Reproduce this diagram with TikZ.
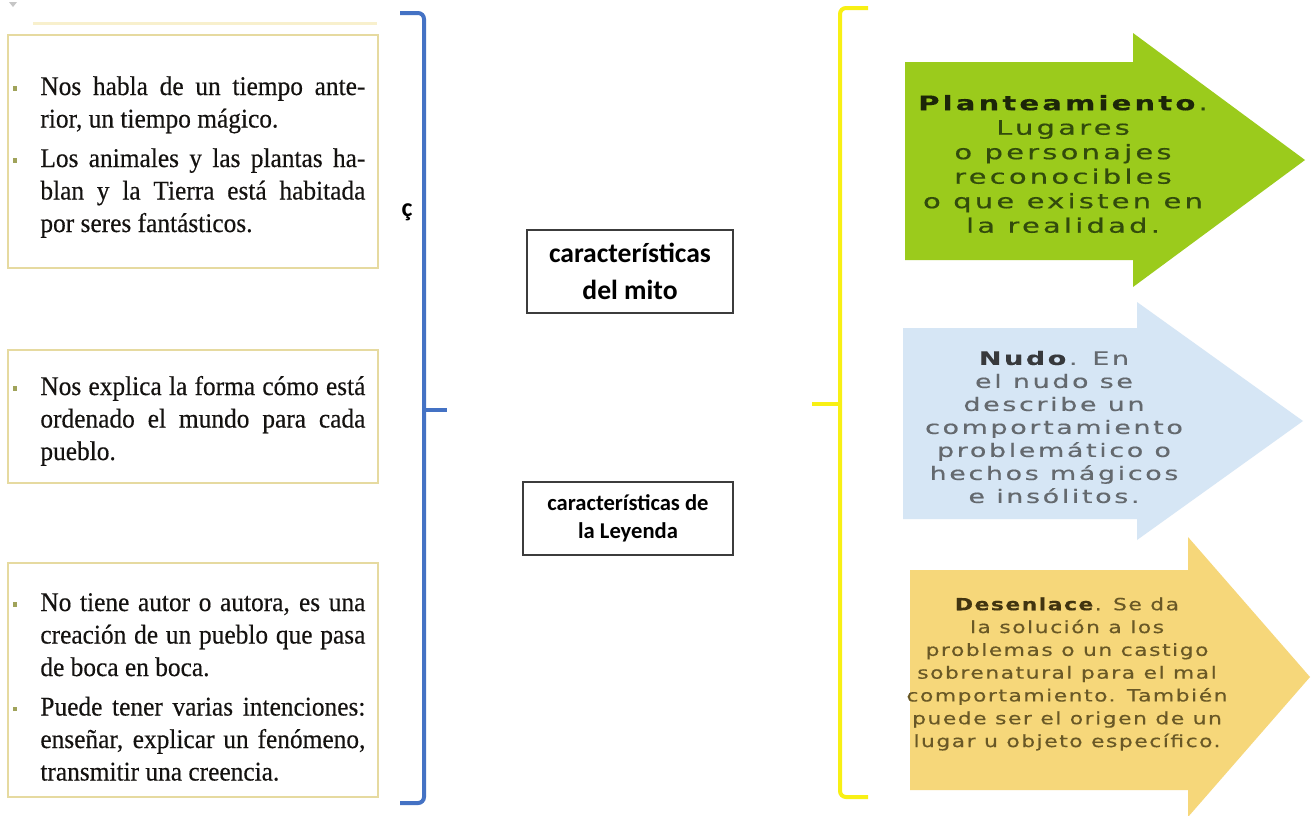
\documentclass[tikz,border=0pt]{standalone}
\usepackage{fontspec}
\setmainfont{Liberation Serif}[FakeStretch=0.94,FakeBold=0.35]
\newfontfamily\calibfont{Carlito}
\newfontfamily\greenfont{DejaVu Sans}[FakeStretch=1.45,LetterSpace=16,FakeBold=0.5]
\newfontfamily\bluefont{DejaVu Sans}[FakeStretch=1.45,LetterSpace=14,FakeBold=0.4]
\newfontfamily\yellowfont{DejaVu Sans}[FakeStretch=1.3,LetterSpace=9,FakeBold=0.4]
\definecolor{gfill}{RGB}{155,203,28}
\definecolor{gtxt}{RGB}{50,75,12}
\definecolor{gtxtb}{RGB}{28,38,8}
\definecolor{bfill}{RGB}{214,230,245}
\definecolor{btxt}{RGB}{100,105,110}
\definecolor{btxtb}{RGB}{55,57,60}
\definecolor{yfill}{RGB}{246,215,122}
\definecolor{ytxt}{RGB}{105,88,38}
\definecolor{ytxtb}{RGB}{65,52,16}
\definecolor{bluebr}{RGB}{68,114,196}
\definecolor{yellowbr}{RGB}{248,240,20}
\definecolor{boxedge}{RGB}{230,218,160}
\definecolor{bulc}{RGB}{160,163,90}
\definecolor{txt}{RGB}{20,18,16}
\definecolor{midedge}{RGB}{60,60,60}
\definecolor{bandc}{RGB}{248,240,205}
\newcommand\justl[1]{\hbox to\hsize{#1}}
\newcommand\plainl[1]{\hbox{#1}}
\newcommand\bul{\llap{\textcolor{bulc}{\rule[2.2pt]{2.2pt}{2.2pt}}\hspace{11.5pt}}}
\tikzset{
  leftbox/.style={draw=boxedge, line width=1pt, fill=white},
  lefttext/.style={anchor=base west, inner sep=0pt, text=txt},
  midbox/.style={draw=midedge, line width=0.75pt, fill=white, align=center, inner sep=0pt},
  brblue/.style={draw=bluebr, line width=2pt, rounded corners=3pt},
  bryellow/.style={draw=yellowbr, line width=2pt, rounded corners=3pt},
}
\begin{document}
\begin{tikzpicture}[x=0.5pt,y=-0.5pt]
\useasboundingbox (0,0) rectangle (1316,815);
\clip (0,0) rectangle (1316,815);
\fill[white] (0,0) rectangle (1316,815);

% small mark top-left
\fill[gray!45] (9,2) -- (17,2) -- (13,7) -- cycle;
% faint band above first box
\draw[bandc, line width=1.5pt] (33,23) -- (377,23);

% left boxes
\draw[leftbox] (8,35) rectangle (378,268);
\draw[leftbox] (8,350) rectangle (378,483);
\draw[leftbox] (8,563) rectangle (378,797);

\node[lefttext] (t1) at (40,95) {\vtop{\hsize=162.5pt\fontsize{13.5pt}{16.25pt}\selectfont
\justl{\bul Nos habla de un tiempo ante-}
\plainl{rior, un tiempo mágico.}
\vskip 3.5pt
\justl{\bul Los animales y las plantas ha-}
\justl{blan y la Tierra está habitada}
\plainl{por seres fantásticos.}}};

\node[lefttext] (t2) at (40,395) {\vtop{\hsize=162.5pt\fontsize{13.5pt}{16.25pt}\selectfont
\justl{\bul Nos explica la forma cómo está}
\justl{ordenado el mundo para cada}
\plainl{pueblo.}}};

\node[lefttext] (t3) at (40,611) {\vtop{\hsize=162.5pt\fontsize{13.5pt}{16.25pt}\selectfont
\justl{\bul No tiene autor o autora, es una}
\justl{creación de un pueblo que pasa}
\plainl{de boca en boca.}
\vskip 3.5pt
\justl{\bul Puede tener varias intenciones:}
\justl{enseñar, explicar un fenómeno,}
\plainl{transmitir una creencia.}}};

% blue bracket
\draw[brblue] (400,13) -- (424,13) -- (424,803) -- (400,803);
\draw[brblue] (424,410) -- (447,410);
\node[font=\calibfont\bfseries\fontsize{13pt}{15pt}\selectfont, inner sep=0pt] (cedil) at (407,212) {ç};

% middle boxes
\node[midbox, minimum width=103pt, minimum height=41.5pt,
  font=\calibfont\bfseries\fontsize{13.8pt}{18.5pt}\selectfont] (mito) at (630,271.5)
  {características\\del mito};
\node[midbox, minimum width=105pt, minimum height=36.5pt,
  font=\calibfont\bfseries\fontsize{11.3pt}{14pt}\selectfont] (leyenda) at (628,518.5)
  {características de\\la Leyenda};

% yellow bracket
\draw[bryellow] (868,8) -- (840,8) -- (840,797) -- (868,797);
\draw[bryellow] (812,404) -- (840,404);

% arrows
\fill[gfill] (905,62) -- (1133,62) -- (1133,33) -- (1305,160) -- (1133,287) -- (1133,260) -- (905,260) -- cycle;
\fill[bfill] (903,328) -- (1137,328) -- (1137,302) -- (1303,421) -- (1137,540) -- (1137,519) -- (903,519) -- cycle;
\fill[yfill] (910,570) -- (1188,570) -- (1188,537) -- (1310,677) -- (1188,817) -- (1188,790) -- (910,790) -- cycle;

\node[align=center, inner sep=0pt, text=gtxt,
  font=\greenfont\fontsize{10pt}{12.25pt}\selectfont] (plant) at (1063,164)
  {\textcolor{gtxtb}{\textbf{Planteamiento}}.\\Lugares\\o personajes\\reconocibles\\o que existen en\\la realidad.};
\node[align=center, inner sep=0pt, text=btxt,
  font=\bluefont\fontsize{9.3pt}{11.5pt}\selectfont] (nudo) at (1054,427)
  {\textcolor{btxtb}{\textbf{Nudo}}. En\\el nudo se\\describe un\\comportamiento\\problemático o\\hechos mágicos\\e insólitos.};
\node[align=center, inner sep=0pt, text=ytxt,
  font=\yellowfont\fontsize{8.4pt}{11.4pt}\selectfont] (desen) at (1067,674)
  {\textcolor{ytxtb}{\textbf{Desenlace}}. Se da\\la solución a los\\problemas o un castigo\\sobrenatural para el mal\\comportamiento. También\\puede ser el origen de un\\lugar u objeto específico.};
\end{tikzpicture}
\end{document}
